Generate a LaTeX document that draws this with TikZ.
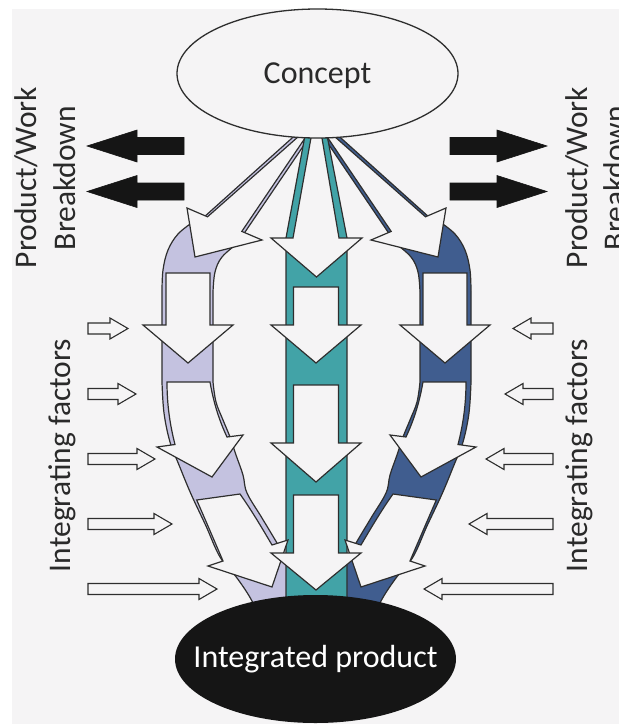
\documentclass[tikz,border=0pt]{standalone}
\usepackage{fontspec}
\setmainfont{Carlito}
\usetikzlibrary{shapes.geometric}

\definecolor{bgc}{HTML}{F5F4F5}
\definecolor{lav}{HTML}{C4C2E0}
\definecolor{tealband}{HTML}{42A3A7}
\definecolor{navyband}{HTML}{405D8F}
\definecolor{edge}{HTML}{2E2E2E}
\definecolor{ink}{HTML}{2A2A2A}
\definecolor{solid}{HTML}{151515}

% straight block arrow: style, tail x, tip x, y, shaft half-height, head half-height, signed head length
\newcommand{\blockarrow}[7]{%
  \draw[#1] ({#2},{#4-#5}) -- ({#3-(#7)},{#4-#5}) -- ({#3-(#7)},{#4-#6}) -- ({#3},{#4})
    -- ({#3-(#7)},{#4+#6}) -- ({#3-(#7)},{#4+#5}) -- ({#2},{#4+#5}) -- cycle;}

% coloured parts of a side column (left-hand geometry)
\newcommand{\sidebands}[1]{%
  \draw[band=#1] (301,130) -- (203,218) -- (243,235) -- (312.4,132.6) -- cycle;
  \draw[band=#1]
    plot[smooth, tension=0.6] coordinates {(193,222) (178,234) (168,250) (163,270) (162,292)}
    -- (162,382)
    -- plot[smooth, tension=0.6] coordinates {(162,382) (164,413) (170,442) (179,465) (191,494) (206,526) (220,557) (237,578) (252,601) (262,625)}
    -- (312,625)
    -- plot[smooth, tension=0.6] coordinates {(312,625) (300,590) (290,565) (277,543) (262,518) (247,493) (243,475) (236,455) (230,437) (223,420) (216,402) (213,382)}
    -- (213,292)
    -- plot[smooth, tension=0.6] coordinates {(213,292) (215,272) (222,257) (238,243)}
    -- cycle;
  % fan arrow leaving the concept
  \draw[flowarrow] (303.2,132.3) -- (207.5,216.8) -- (187,208) -- (195,257) -- (262,240)
    -- (241.8,231.4) -- (308.2,133.4) -- cycle;
}

% white arrows running down a side column (left-hand geometry)
\newcommand{\sidearrows}{%
  \draw[flowarrow] (166,273) -- (166,325) -- (143,325) -- (188,363) -- (233,325) -- (210,325) -- (210,273) -- cycle;
  \draw[flowarrow] (167,382) -- (210,382) .. controls (214,405) and (220,422) .. (227,437)
    -- (243,435) -- (212,477) -- (157,447) -- (175,444.5)
    .. controls (170,425) and (167,405) .. (167,382) -- cycle;
  \draw[flowarrow] (196.7,500) -- (240,494) .. controls (252,511) and (262,528) .. (272,545)
    -- (288,540) -- (272,587) -- (208,566) -- (223,561)
    .. controls (214,540) and (205,519) .. (196.7,500) -- cycle;
}

% white arrow in the middle column: shaft top, head base, tip
\newcommand{\middown}[3]{%
  \draw[flowarrow] (293.5,#1) -- (293.5,#2) -- (271,#2) -- (316,#3) -- (361,#2) -- (338.5,#2) -- (338.5,#1) -- cycle;}

\begin{document}
\begin{tikzpicture}[x=1pt, y=-1pt,
  outl/.style={draw=edge, line width=1.2pt, line join=miter, miter limit=4},
  band/.style={outl, fill=#1},
  flowarrow/.style={outl, fill=bgc},
  solidarrow/.style={fill=solid, draw=solid, line width=0.6pt},
  thinarrow/.style={draw=edge, line width=1.1pt, fill=bgc},
  bigtext/.style={font=\fontsize{32}{38}\selectfont, inner sep=0pt},
  sidetext/.style={font=\fontsize{31.5}{38}\selectfont, text=ink, inner sep=0pt, rotate=90, anchor=base}]

\useasboundingbox (0,0) rectangle (619,724);
\fill[white] (0,0) rectangle (619,724);
\fill[bgc] (12,9) rectangle (619,724);

% coloured bands of the two side columns
\sidebands{lav}
\begin{scope}[shift={(633,0)}, xscale=-1]
  \sidebands{navyband}
\end{scope}

% middle column band
\draw[band=tealband] (306,130) -- (326,130) -- (347,238) -- (347,625) -- (286,625) -- (286,238) -- cycle;

% arrows along the side columns
\sidearrows
\begin{scope}[shift={(633,0)}, xscale=-1]
  \sidearrows
\end{scope}

% arrows along the middle column
\draw[flowarrow] (312.4,130) -- (293,238) -- (271,238) -- (316.5,277) -- (362,238) -- (339,238) -- (320.6,130) -- cycle;
\middown{287}{325}{363}
\middown{385}{443}{482}
\middown{495}{553}{590}

% end points
\node[draw=edge, line width=1.3pt, fill=bgc, ellipse, minimum width=281pt, minimum height=129pt, inner sep=0pt] (concept) at (317.5,73.5) {};
\node[bigtext, text=ink, anchor=base] (conceptlabel) at (317.5,83) {Concept};
\node[fill=solid, ellipse, minimum width=281pt, minimum height=128pt, inner sep=0pt] (product) at (315.5,659) {};
\node[bigtext, text=white, anchor=base] (productlabel) at (315.5,667) {Integrated product};

% breakdown arrows
\blockarrow{solidarrow}{184}{87}{146}{8.5}{16}{-50}
\blockarrow{solidarrow}{184}{87}{191.5}{8.5}{16}{-50}
\blockarrow{solidarrow}{450}{547}{146}{8.5}{16}{50}
\blockarrow{solidarrow}{450}{547}{191.5}{8.5}{16}{50}

% integrating factor arrows
\blockarrow{thinarrow}{88}{128}{328.5}{5.5}{10.5}{18}
\blockarrow{thinarrow}{88}{136}{394}{5.5}{10.5}{18}
\blockarrow{thinarrow}{88}{155}{459}{5.5}{10.5}{18}
\blockarrow{thinarrow}{88}{172}{524}{5.5}{10.5}{18}
\blockarrow{thinarrow}{88}{217}{589}{5.5}{10.5}{18}
\blockarrow{thinarrow}{553}{513}{328.5}{5.5}{10.5}{-18}
\blockarrow{thinarrow}{553}{505}{394}{5.5}{10.5}{-18}
\blockarrow{thinarrow}{553}{486}{459}{5.5}{10.5}{-18}
\blockarrow{thinarrow}{553}{469}{524}{5.5}{10.5}{-18}
\blockarrow{thinarrow}{553}{424}{589}{5.5}{10.5}{-18}

% side labels
\node[sidetext] (pwleft) at (37,177.5) {Product/Work};
\node[sidetext] (bdleft) at (75,178) {Breakdown};
\node[sidetext] (ifleft) at (70,455.5) {Integrating factors};
\node[sidetext] (pwright) at (587,177.5) {Product/Work};
\node[sidetext] (bdright) at (625,178) {Breakdown};
\node[sidetext] (ifright) at (587,455.5) {Integrating factors};
\end{tikzpicture}
\end{document}
